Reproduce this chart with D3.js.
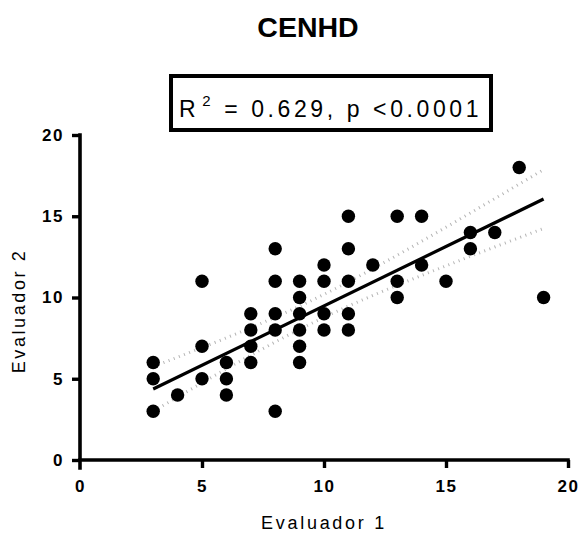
<!DOCTYPE html>
<meta charset="utf-8">
<script src="https://cdn.jsdelivr.net/npm/d3@7"></script>
<style>
  body { margin: 0; background: #fff; }
  text { font-family: "Liberation Sans", Arial, sans-serif; }
</style>
<div id="chart"></div>
<script>
// Evaluador 1 vs Evaluador 2 scores
var evaluador1 = [3, 3, 3, 4, 5, 5, 5, 6, 6, 6, 7, 7, 7, 7,
  8, 8, 8, 8, 8, 9, 9, 9, 9, 9, 9, 10, 10, 10, 10,
  11, 11, 11, 11, 11, 12, 13, 13, 13, 14, 14, 15, 16, 16, 17, 18, 19];
var evaluador2 = [6, 5, 3, 4, 11, 7, 5, 6, 5, 4, 9, 8, 7, 6,
  13, 11, 9, 8, 3, 11, 10, 9, 8, 7, 6, 12, 11, 9, 8,
  15, 13, 11, 9, 8, 12, 15, 11, 10, 15, 12, 11, 14, 13, 14, 18, 10];
// fitted line (ends at x = 3 and x = 19)
var fitX = [3, 19];
var fitY = [4.37, 16.06];
var ticks = [0, 5, 10, 15, 20];
var title = "CENHD";
var xLabel = "Evaluador 1", yLabel = "Evaluador 2";

var width = 580, height = 536;

var svg = d3.select("#chart").append("svg")
  .attr("width", width).attr("height", height);

var x = d3.scaleLinear().domain([0, 20]).range([80, 568]);
var y = d3.scaleLinear().domain([0, 20]).range([460, 135]);

// 95% confidence band around the fit
var pts = evaluador1.map(function(d, i) { return {x: d, y: evaluador2[i]}; });
var n = pts.length;
var slope = (fitY[1] - fitY[0]) / (fitX[1] - fitX[0]);
var icpt = fitY[0] - slope * fitX[0];
var mx = d3.mean(evaluador1);
var sxx = d3.sum(pts, d => (d.x - mx) * (d.x - mx));
var s = Math.sqrt(d3.sum(pts, d => Math.pow(d.y - (icpt + slope * d.x), 2)) / (n - 2));
var t = 2.015;
var xs = d3.range(fitX[0], fitX[1] + 0.001, 0.25);
function band(sign) {
  return xs.map(function(v) {
    var se = s * Math.sqrt(1 / n + (v - mx) * (v - mx) / sxx);
    return [v, icpt + slope * v + sign * t * se];
  });
}
var line = d3.line().x(d => x(d[0])).y(d => y(d[1]));

[1, -1].forEach(function(sg) {
  svg.append("path").datum(band(sg))
    .attr("fill", "none").attr("stroke", "#b4b4b4")
    .attr("stroke-width", 3).attr("stroke-dasharray", "1,4.5")
    .attr("d", line);
});

// points
svg.selectAll("circle.pt").data(pts).enter().append("circle")
  .attr("class", "pt")
  .attr("cx", d => x(d.x)).attr("cy", d => y(d.y))
  .attr("r", 6.7).attr("fill", "#000");

svg.append("path").datum(d3.zip(fitX, fitY))
  .attr("fill", "none").attr("stroke", "#000").attr("stroke-width", 3.2)
  .attr("d", line);

// axes
var xAxis = svg.append("g").attr("transform", "translate(0,460)")
  .call(d3.axisBottom(x).tickValues(ticks).tickSize(8).tickPadding(12));
var yAxis = svg.append("g").attr("transform", "translate(80,0)")
  .call(d3.axisLeft(y).tickValues(ticks).tickSize(8).tickPadding(8));
xAxis.select(".domain").attr("d", "M" + x(0) + ",0H" + x(20));
yAxis.select(".domain").attr("d", "M0," + y(20) + "V" + (y(0) + 8));
svg.selectAll(".domain").attr("stroke-width", 3.6).attr("stroke-linecap", "square");
svg.selectAll(".tick line").attr("stroke-width", 3.4);
svg.selectAll(".tick text")
  .style("font-size", "17px").style("font-weight", "bold")
  .style("letter-spacing", "1.5px");
xAxis.selectAll(".tick").filter(d => d === 0).select("line").remove();

// titles
svg.append("text").attr("x", 308).attr("y", 37).attr("text-anchor", "middle")
  .style("font-size", "28.5px").style("font-weight", "bold").text(title);

svg.append("text").attr("x", x(10)).attr("y", 529).attr("text-anchor", "middle")
  .style("font-size", "18px").style("letter-spacing", "2.7px").text(xLabel);

svg.append("text").attr("transform", "translate(25,311) rotate(-90)")
  .attr("text-anchor", "middle")
  .style("font-size", "18px").style("letter-spacing", "2.6px")
  .text(yLabel);

// stats box
svg.append("rect").attr("x", 171).attr("y", 76).attr("width", 320).attr("height", 54)
  .attr("fill", "#fff").attr("stroke", "#000").attr("stroke-width", 4);
var st = svg.append("text").attr("x", 179).attr("y", 117)
  .style("font-size", "23px").style("letter-spacing", "3.6px");
st.append("tspan").text("R");
st.append("tspan").attr("dy", -11).attr("dx", 3).style("font-size", "15px").text("2");
st.append("tspan").attr("dy", 11).text(" = 0.629, p <0.0001");
</script>
